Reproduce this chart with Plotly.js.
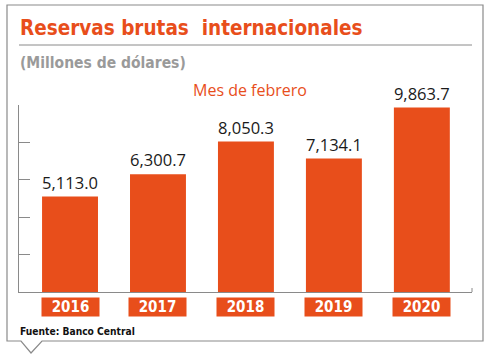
<!DOCTYPE html>
<html>
<head>
<meta charset="utf-8">
<script src="https://cdn.plot.ly/plotly-3.0.1.min.js"></script>
<style>html,body{margin:0;padding:0;background:#fff;}#chart{width:491px;height:354px;}</style>
</head>
<body>
<div id="chart"></div>
<script>
const years = ['2016', '2017', '2018', '2019', '2020'];
const reservas = [5113.0, 6300.7, 8050.3, 7134.1, 9863.7];
const titleText = 'Reservas brutas  internacionales';
const subtitleText = '(Millones de dólares)';
const periodText = 'Mes de febrero';
const sourceText = 'Fuente: Banco Central';

const ORANGE = '#E84E1B';
const L = 19, R = 19, T = 105, B = 62, W = 491, H = 354;
const pw = W - L - R, ph = H - T - B;
const px = x => (x - L) / pw;           // pixel -> paper x
const py = y => (H - B - y) / ph;       // pixel -> paper y

const condBold = '"DejaVu Sans Condensed", sans-serif';

const annotations = [
  {text: '<b>' + titleText + '</b>', xref: 'paper', yref: 'paper', x: px(18), y: py(28),
   xanchor: 'left', yanchor: 'middle', showarrow: false,
   font: {family: condBold, size: 20.5, color: ORANGE}},
  {text: '<b>' + subtitleText + '</b>', xref: 'paper', yref: 'paper', x: px(18), y: py(63),
   xanchor: 'left', yanchor: 'middle', showarrow: false,
   font: {family: condBold, size: 15.5, color: '#9a9a9a'}},
  {text: periodText, xref: 'paper', yref: 'paper', x: px(250), y: py(90),
   xanchor: 'center', yanchor: 'middle', showarrow: false,
   font: {family: '"Open Sans", sans-serif', size: 16, color: ORANGE}},
  {text: '<b>' + sourceText + '</b>', xref: 'paper', yref: 'paper', x: px(18), y: py(331),
   xanchor: 'left', yanchor: 'middle', showarrow: false,
   font: {family: condBold, size: 10.2, color: '#111'}}
];
years.forEach((yr, i) => {
  annotations.push({text: '<b>' + yr + '</b>', xref: 'x', yref: 'paper', x: i, y: py(307),
    xanchor: 'center', yanchor: 'middle', showarrow: false,
    width: 57, height: 18, bgcolor: ORANGE, borderpad: 0,
    font: {family: condBold, size: 15, color: '#fff'}});
});

const shapes = [
  {type: 'path', xref: 'paper', yref: 'paper',
   path: `M ${px(7)} ${py(341)} L ${px(7)} ${py(5)} L ${px(483)} ${py(5)} L ${px(483)} ${py(341)} L ${px(42)} ${py(341)} L ${px(31)} ${py(353)} L ${px(21)} ${py(341)} Z`,
   line: {color: '#8a8a8a', width: 1.2}, fillcolor: 'rgba(0,0,0,0)', layer: 'below'},
  {type: 'line', xref: 'paper', yref: 'paper', x0: 0, x1: px(472), y0: py(45), y1: py(45),
   line: {color: '#8a8a8a', width: 1}},
  {type: 'line', xref: 'paper', yref: 'paper', x0: 1, x1: 1, y0: 0, y1: py(288),
   line: {color: '#8a8a8a', width: 1}}
];

const data = [{
  type: 'bar', x: years, y: reservas,
  marker: {color: ORANGE},
  width: 0.636,
  text: reservas.map(v => v.toLocaleString('en-US', {minimumFractionDigits: 1, maximumFractionDigits: 1})),
  textposition: 'outside', cliponaxis: false,
  textfont: {family: '"Open Sans", sans-serif', size: 17, color: '#1a1a1a'},
  hoverinfo: 'none'
}];

const layout = {
  width: W, height: H,
  margin: {l: L, r: R, t: T, b: B, pad: 0},
  paper_bgcolor: '#fff', plot_bgcolor: '#fff',
  showlegend: false,
  xaxis: {type: 'category', showline: true, linecolor: '#8a8a8a', linewidth: 1,
          showticklabels: false, ticks: '', showgrid: false, zeroline: false,
          range: [-0.58, 4.57]},
  yaxis: {range: [0, 10000], dtick: 2000, tick0: 0, showline: true, linecolor: '#8a8a8a', linewidth: 1,
          ticks: 'inside', ticklen: 11, tickcolor: '#8a8a8a', tickwidth: 1,
          showticklabels: false, showgrid: false, zeroline: false},
  annotations: annotations,
  shapes: shapes
};

Plotly.newPlot('chart', data, layout, {displayModeBar: false, staticPlot: true});
</script>
</body>
</html>
